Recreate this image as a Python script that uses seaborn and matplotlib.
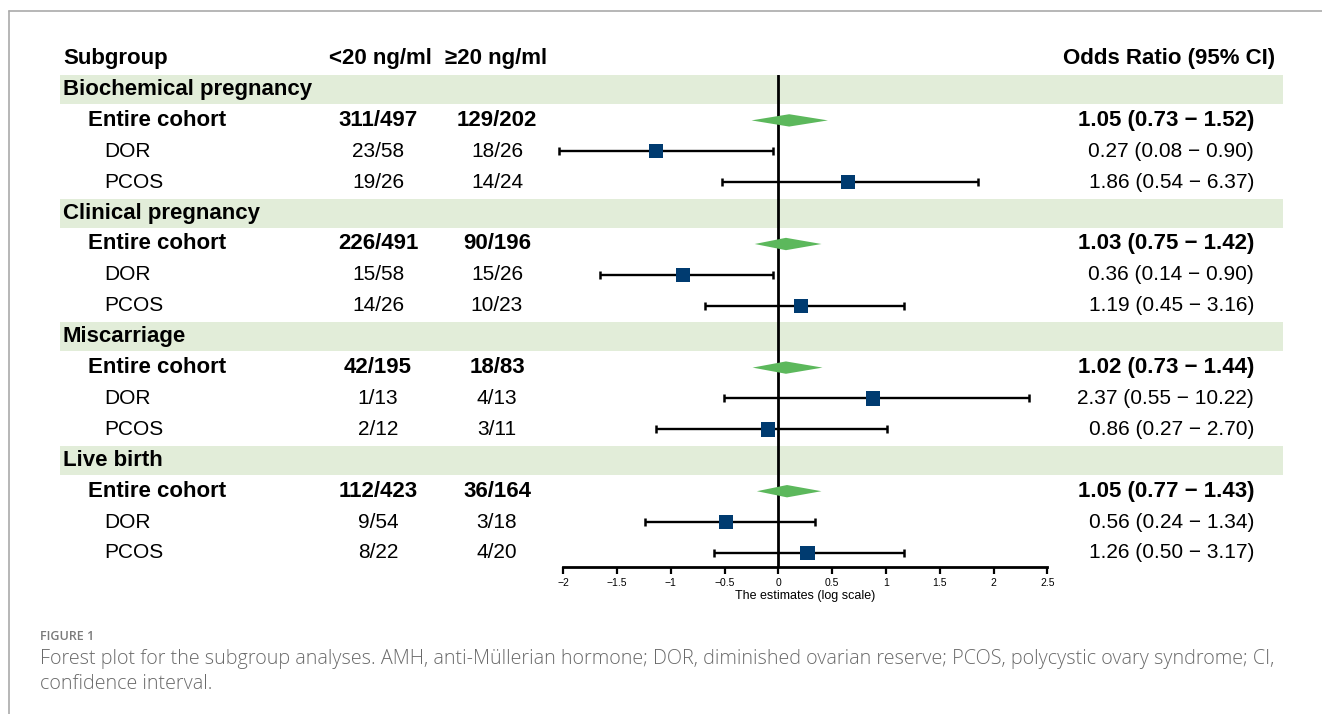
import matplotlib
matplotlib.use("Agg")
import matplotlib.pyplot as plt
from matplotlib.patches import Rectangle, Polygon
from matplotlib.lines import Line2D
import seaborn as sns
import pandas as pd
import numpy as np

# ---------------- data ----------------
groups = ["Biochemical pregnancy", "Clinical pregnancy", "Miscarriage", "Live birth"]
subgroups = ["Entire cohort", "DOR", "PCOS"]
low_amh = ["311/497", "23/58", "19/26",
           "226/491", "15/58", "14/26",
           "42/195", "1/13", "2/12",
           "112/423", "9/54", "8/22"]
high_amh = ["129/202", "18/26", "14/24",
            "90/196", "15/26", "10/23",
            "18/83", "4/13", "3/11",
            "36/164", "3/18", "4/20"]
or_text = ["1.05 (0.73 \u2212 1.52)", "0.27 (0.08 \u2212 0.90)", "1.86 (0.54 \u2212 6.37)",
           "1.03 (0.75 \u2212 1.42)", "0.36 (0.14 \u2212 0.90)", "1.19 (0.45 \u2212 3.16)",
           "1.02 (0.73 \u2212 1.44)", "2.37 (0.55 \u2212 10.22)", "0.86 (0.27 \u2212 2.70)",
           "1.05 (0.77 \u2212 1.43)", "0.56 (0.24 \u2212 1.34)", "1.26 (0.50 \u2212 3.17)"]
# plotted estimates (log scale) as drawn
est = [0.10, -1.135, 0.65, 0.07, -0.89, 0.21, 0.07, 0.88, -0.10, 0.08, -0.49, 0.27]
lo = [-0.25, -2.04, -0.52, -0.22, -1.66, -0.68, -0.24, -0.51, -1.14, -0.20, -1.24, -0.60]
hi = [0.46, -0.05, 1.86, 0.40, -0.05, 1.17, 0.41, 2.33, 1.01, 0.40, 0.34, 1.17]
tick_vals = [-2, -1.5, -1, -0.5, 0, 0.5, 1, 1.5, 2, 2.5]
tick_labels = ["\u22122", "\u22121.5", "\u22121", "\u22120.5", "0", "0.5", "1", "1.5", "2", "2.5"]

# ---------------- style ----------------
sns.set_theme(style="ticks")
plt.rcParams['font.family'] = ['Liberation Sans', 'DejaVu Sans']
plt.rcParams['text.color'] = 'black'
plt.rcParams['axes.labelcolor'] = 'black'
plt.rcParams['xtick.color'] = 'black'

W, H = 1322, 714
fig = plt.figure(figsize=(W / 100, H / 100), dpi=100)
ROW0, ROWH = 58.6, 30.9

# background axes: x in pixels, y in rows (downwards)
bg = fig.add_axes([0, 0, 1, 1])
bg.set_xlim(0, W)
bg.set_ylim((H - ROW0) / ROWH, -ROW0 / ROWH)
bg.axis('off')

BAND = "#E2EDD9"
SQ = "#003B70"
DIA = "#5CB85C"

# header
hfs = 16
bg.text(63, 0, "Subgroup", ha='left', va='center', fontsize=hfs, fontweight='bold')
bg.text(380, 0, "<20 ng/ml", ha='center', va='center', fontsize=hfs, fontweight='bold')
bg.text(496, 0, "\u226520 ng/ml", ha='center', va='center', fontsize=hfs, fontweight='bold')
bg.text(1275, 0, "Odds Ratio (95% CI)", ha='right', va='center', fontsize=hfs, fontweight='bold')

rows = []
k = 0
for g, gname in enumerate(groups):
    brow = 1 + 4 * g
    bg.add_patch(Rectangle((60, brow - 0.47), 1223, 0.94, facecolor=BAND, edgecolor='none', zorder=0))
    bg.text(63, brow, gname, ha='left', va='center', fontsize=hfs, fontweight='bold')
    for s, sname in enumerate(subgroups):
        r = brow + 1 + s
        bold = (s == 0)
        fw = 'bold' if bold else 'normal'
        fs = 16 if bold else 15
        bg.text(88 if bold else 104, r, sname, ha='left', va='center', fontsize=fs, fontweight=fw)
        bg.text(378, r, low_amh[k], ha='center', va='center', fontsize=fs, fontweight=fw)
        bg.text(497, r, high_amh[k], ha='center', va='center', fontsize=fs, fontweight=fw)
        bg.text(1254, r, or_text[k], ha='right', va='center', fontsize=fs, fontweight=fw)
        rows.append(dict(row=r, est=est[k], lo=lo[k], hi=hi[k], pooled=bold))
        k += 1

df = pd.DataFrame(rows)

# forest axes
xl, xr = 563.3, 1047.3
ytop_px, ybot_px = 75.0, 567.0
fx = fig.add_axes([xl / W, 1 - ybot_px / H, (xr - xl) / W, (ybot_px - ytop_px) / H])
fx.set_facecolor('none')
fx.set_xlim(-2, 2.5)
fx.set_ylim((ybot_px - ROW0) / ROWH, (ytop_px - ROW0) / ROWH)

fx.axvline(0, color='black', lw=2.0, zorder=3)

sub = df[~df.pooled]
fx.errorbar(sub.est, sub.row, xerr=[sub.est - sub.lo, sub.hi - sub.est], fmt='none',
            ecolor='black', elinewidth=1.7, capsize=2.8, capthick=1.8, zorder=2, clip_on=False)
sns.scatterplot(data=sub, x='est', y='row', marker='s', s=105, color=SQ, edgecolor='none',
                legend=False, ax=fx, zorder=5, clip_on=False)

pooled = df[df.pooled]
hh = 0.2
for _, p in pooled.iterrows():
    poly = Polygon([[p.lo, p.row], [p.est, p.row - hh], [p.hi, p.row], [p.est, p.row + hh]],
                   closed=True, facecolor=DIA, edgecolor='none', zorder=4)
    fx.add_patch(poly)

for sp in ['left', 'top', 'right']:
    fx.spines[sp].set_visible(False)
fx.spines['bottom'].set_linewidth(2.0)
fx.spines['bottom'].set_color('black')
fx.set_yticks([])
fx.set_xticks(tick_vals)
fx.set_xticklabels(tick_labels, fontsize=7.5)
fx.tick_params(axis='x', direction='out', length=5, width=1.6, pad=3, bottom=True, colors='black')
fx.set_xlabel("The estimates (log scale)", fontsize=9, labelpad=1.5, color='black')
fx.set_ylabel("")

# frame lines
fig.add_artist(Line2D([9 / W, 1], [1 - 11 / H, 1 - 11 / H], transform=fig.transFigure,
                      color='#aaaaaa', lw=1.2))
fig.add_artist(Line2D([9 / W, 9 / W], [1 - 11 / H, 0], transform=fig.transFigure,
                      color='#aaaaaa', lw=1.2))

# caption
cap_font = ['Open Sans', 'DejaVu Sans']
fig.text(40 / W, 1 - 637 / H, "FIGURE 1", ha='left', va='center', fontsize=9,
         color='#7a7a7a', family=cap_font, fontweight='semibold')
fig.text(40 / W, 1 - 659 / H,
         "Forest plot for the subgroup analyses. AMH, anti-M\u00fcllerian hormone; DOR, diminished ovarian reserve; PCOS, polycystic ovary syndrome; CI,",
         ha='left', va='center', fontsize=14.2, color='#6a6a6a', family=cap_font, fontweight='light')
fig.text(40 / W, 1 - 684 / H, "confidence interval.", ha='left', va='center', fontsize=14.2,
         color='#6a6a6a', family=cap_font, fontweight='light')

fig.savefig("out.png", dpi=100)
